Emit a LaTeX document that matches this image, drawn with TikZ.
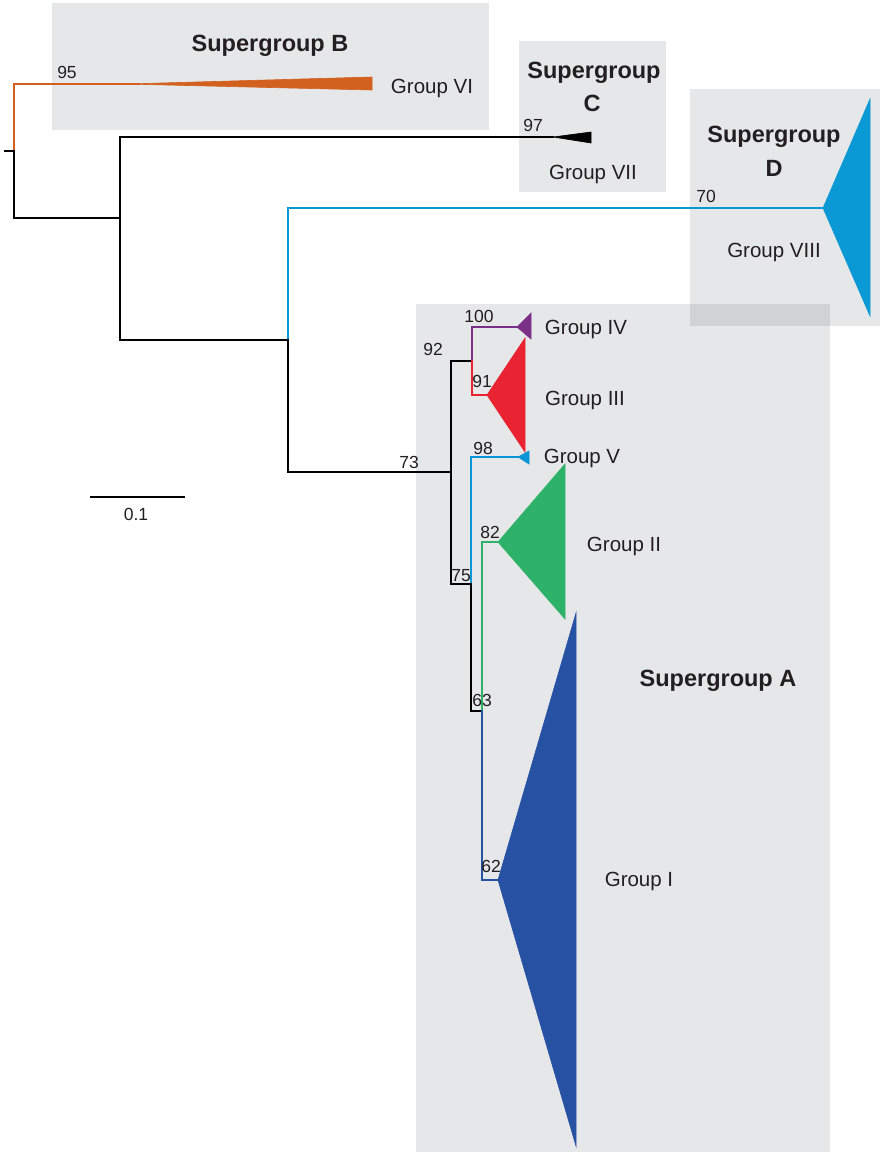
\documentclass[tikz,border=0pt]{standalone}
\usepackage{fontspec}
\setmainfont{Liberation Sans}
\definecolor{boxgray}{HTML}{E6E7E8}
\definecolor{overgray}{HTML}{D1D2D4}
\definecolor{txt}{HTML}{231F20}
\definecolor{corange}{HTML}{D2601E}
\definecolor{cblueD}{HTML}{0A99D5}
\definecolor{cpurple}{HTML}{7B3087}
\definecolor{cred}{HTML}{E92331}
\definecolor{cblueV}{HTML}{0A95D6}
\definecolor{cgreen}{HTML}{2EB26A}
\definecolor{cnavy}{HTML}{2751A3}
\tikzset{
  br/.style={line width=1.1pt, line cap=rect},
  grp/.style={anchor=base, text=txt, font=\fontsize{20.5}{22}\selectfont, inner sep=0pt},
  sgl/.style={anchor=base, text=txt, font=\fontsize{23.5}{26}\selectfont\bfseries, inner sep=0pt},
  bs/.style={anchor=base, text=txt, font=\fontsize{17.5}{19}\selectfont, inner sep=0pt},
  clade/.style={draw=#1, fill=#1, line width=0.6pt, line join=miter},
}
\begin{document}
\begin{tikzpicture}[x=1pt,y=-1pt]
\useasboundingbox (0,0) rectangle (880,1152);
% background boxes
\fill[boxgray] (52,3) rectangle (489,130);
\fill[boxgray] (519,41) rectangle (666,192);
\fill[boxgray] (690,89) rectangle (880,326);
\fill[boxgray] (416,304) rectangle (830,1152);
\fill[overgray] (690,304) rectangle (830,326);

% tree coordinates
\coordinate (r0) at (5,151);
\coordinate (r) at (14,151);
\coordinate (rB) at (14,84);
\coordinate (rL) at (14,218);
\coordinate (n1) at (120,218);
\coordinate (n1t) at (120,137);
\coordinate (n1b) at (120,340);
\coordinate (n2) at (288,340);
\coordinate (n2t) at (288,208);
\coordinate (n2b) at (288,472);
\coordinate (n3) at (451,472);
\coordinate (n3t) at (451,361);
\coordinate (n3b) at (451,584);
\coordinate (n4) at (472,361);
\coordinate (n4t) at (472,327);
\coordinate (n4b) at (472,395);
\coordinate (n5) at (471,584);
\coordinate (n5t) at (471,457);
\coordinate (n5b) at (471,711);
\coordinate (n6) at (482,711);
\coordinate (n6t) at (482,542);
\coordinate (n6b) at (482,880);

% clade tips
\coordinate (tVI) at (140,84);
\coordinate (tVIa) at (126,84);
\coordinate (tVII) at (553,137);
\coordinate (tVIII) at (823,208);
\coordinate (tIV) at (517,327);
\coordinate (tIII) at (487,395);
\coordinate (tV) at (518,457);
\coordinate (tII) at (498,542);
\coordinate (tI) at (498,880);

% collapsed clades
\draw[clade=corange] (tVIa) -- (372,77) -- (372,90) -- cycle;
\draw[clade=black] (tVII) -- (591,132) -- (591,143) -- cycle;
\draw[clade=cblueD] (tVIII) -- (870,99) -- (870,316) -- cycle;
\draw[clade=cpurple] (tIV) -- (531,313) -- (531,339) -- cycle;
\draw[clade=cred] (tIII) -- (525,338) -- (525,452) -- cycle;
\draw[clade=cblueV] (tV) -- (529,451) -- (529,464) -- cycle;
\draw[clade=cgreen] (tII) -- (565,464) -- (565,619) -- cycle;
\draw[clade=cnavy] (tI) -- (576,613) -- (576,1146) -- cycle;

% branches
\draw[br, black] (r0) -- (r);
\draw[br, corange, line cap=butt] (r) -- (rB) -- (tVI);
\draw[br, black] (r) -- (rL) -- (n1);
\draw[br, black] (n1b) -- (n1t) -- (tVII);
\draw[br, black] (n1b) -- (n2);
\draw[br, cblueD] (n2) -- (n2t) -- (tVIII);
\draw[br, black] (n2) -- (n2b) -- (n3);
\draw[br, black] (n3t) -- (n3b);
\draw[br, black] (n3t) -- (n4);
\draw[br, cpurple] (n4) -- (n4t) -- (tIV);
\draw[br, cred] (n4) -- (n4b) -- (tIII);
\draw[br, black] (n3b) -- (n5);
\draw[br, cblueV] (n5) -- (n5t) -- (tV);
\draw[br, black] (n5) -- (n5b) -- (n6);
\draw[br, cgreen] (n6) -- (n6t) -- (tII);
\draw[br, cnavy] (n6) -- (n6b) -- (tI);

% scale bar
\coordinate (sb1) at (90,497);
\coordinate (sb2) at (185,497);
\draw[line width=1.1pt] (sb1) -- (sb2);
\node[bs] (sbl) at (136,520) {0.1};

% supergroup labels
\node[sgl] (sgB) at (270,51) {Supergroup B};
\node[sgl] (sgC1) at (594,78) {Supergroup};
\node[sgl] (sgC2) at (592,111) {C};
\node[sgl] (sgD1) at (774,142) {Supergroup};
\node[sgl] (sgD2) at (774,176) {D};
\node[sgl] (sgA) at (718,686) {Supergroup A};

% group labels
\node[grp] (gVI) at (432,93) {Group VI};
\node[grp] (gVII) at (593,179) {Group VII};
\node[grp] (gVIII) at (774,257) {Group VIII};
\node[grp] (gIV) at (586,334) {Group IV};
\node[grp] (gIII) at (585,405) {Group III};
\node[grp] (gV) at (582,463) {Group V};
\node[grp] (gII) at (624,551) {Group II};
\node[grp] (gI) at (639,886) {Group I};

% bootstrap values
\node[bs] (b95) at (67,78) {95};
\node[bs] (b97) at (533,131) {97};
\node[bs] (b70) at (706,202) {70};
\node[bs] (b100) at (479,322) {100};
\node[bs] (b92) at (433,355) {92};
\node[bs] (b91) at (482,387) {91};
\node[bs] (b98) at (483,454) {98};
\node[bs] (b73) at (409,468) {73};
\node[bs] (b82) at (490,538) {82};
\node[bs] (b75) at (461,581) {75};
\node[bs] (b63) at (482,706) {63};
\node[bs] (b62) at (491,872) {62};
\end{tikzpicture}
\end{document}
